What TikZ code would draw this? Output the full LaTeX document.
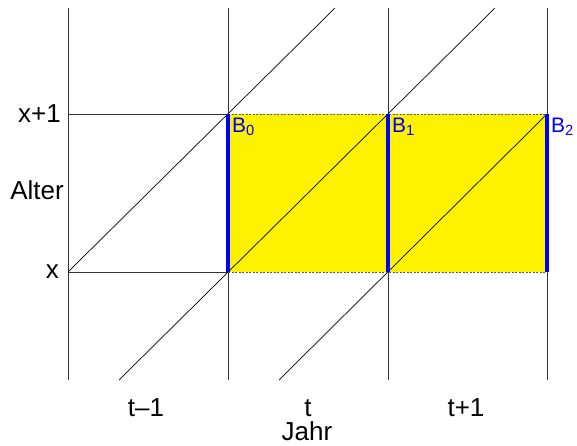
\documentclass[tikz,border=0pt]{standalone}
\usepackage{fontspec}
\setmainfont{Liberation Sans}
\begin{document}
\begin{tikzpicture}[x=1bp,y=-1bp,
  gridline/.style={draw=black!80,line width=0.8bp},
  diag/.style={draw=black,line width=0.7bp},
  edge/.style={draw=black!65,line width=0.9bp,dash pattern=on 2bp off 1.5bp},
  bluebar/.style={draw=blue,line width=4.2bp},
  lab/.style={font=\fontsize{26bp}{28bp}\selectfont,inner sep=0pt},
  blab/.style={font=\fontsize{21bp}{23bp}\selectfont,text=blue,inner sep=0pt,anchor=north west}]
\useasboundingbox (0,0) rectangle (577,446);
% grid points
\coordinate (L0) at (68,8);   \coordinate (L1) at (68,380);
\coordinate (A0) at (228,8);  \coordinate (A1) at (228,380);
\coordinate (B0) at (388,8);  \coordinate (B1) at (388,380);
\coordinate (C0) at (547,8);  \coordinate (C1) at (547,380);
\coordinate (Ltop) at (68,114); \coordinate (Lbot) at (68,272);
\coordinate (Atop) at (228,114); \coordinate (Abot) at (228,272);
\coordinate (Btop) at (388,114); \coordinate (Bbot) at (388,272);
\coordinate (Ctop) at (547,114); \coordinate (Cbot) at (547,272);
\coordinate (D1e) at (335,8);
\coordinate (D2s) at (119,380); \coordinate (D2e) at (495,8);
\coordinate (D3s) at (279,380);
% yellow area
\fill[yellow] (Atop) rectangle (Cbot);
% grid
\draw[gridline] (L0) -- (L1);
\draw[gridline] (A0) -- (A1);
\draw[gridline] (B0) -- (B1);
\draw[gridline] (C0) -- (C1);
\draw[gridline] (Ltop) -- (Atop);
\draw[gridline] (Lbot) -- (Abot);
% diagonals
\draw[diag] (Lbot) -- (D1e);
\draw[diag] (D2s) -- (D2e);
\draw[diag] (D3s) -- (Ctop);
% dashed edges
\draw[edge] (Atop) -- (Ctop);
\draw[edge] (Abot) -- (Cbot);
% blue bars
\draw[bluebar] (Atop) -- (Abot);
\draw[bluebar] (Btop) -- (Bbot);
\draw[bluebar] (Ctop) -- (Cbot);
% B labels
\node[blab] (b0) at (232,118) {B$_{\mathrm{0}}$};
\node[blab] (b1) at (392,118) {B$_{\mathrm{1}}$};
\node[blab] (b2) at (551,118) {B$_{\mathrm{2}}$};
% axis labels
\node[lab,anchor=east] (xp1) at (61,114) {x+1};
\node[lab,anchor=east] (alter) at (64,190) {Alter};
\node[lab,anchor=east] (xx) at (59,272) {x};
\node[lab,anchor=base] (tm1) at (146,416) {t\textendash 1};
\node[lab,anchor=base] (tt) at (308,416) {t};
\node[lab,anchor=base] (tp1) at (466,416) {t+1};
\node[lab,anchor=base] (jahr) at (307,440) {Jahr};
\end{tikzpicture}
\end{document}
